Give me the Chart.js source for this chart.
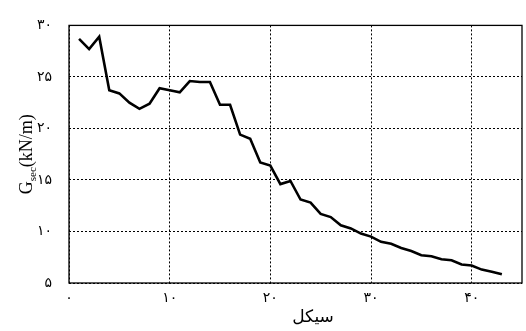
<!DOCTYPE html>
<html>
<head>
<meta charset="utf-8">
<script src="https://cdn.jsdelivr.net/npm/chart.js@4.4.0/dist/chart.umd.min.js"></script>
<style>
  body { margin: 0; background: #fff; }
  #wrap { width: 526px; height: 331px; }
</style>
</head>
<body>
<div id="wrap"><canvas id="mainChart" width="526" height="331"></canvas></div>
<script>
// cycle number and secant stiffness
var cycles = [1, 2, 3, 4, 5, 6, 7, 8, 9, 10, 11, 12, 13, 14, 15, 16, 17, 18, 19, 20, 21, 22,
              23, 24, 25, 26, 27, 28, 29, 30, 31, 32, 33, 34, 35, 36, 37, 38, 39, 40, 41, 42, 43];
var gsec = [28.7, 27.7, 28.9, 23.7, 23.4, 22.5, 21.9, 22.4, 23.9, 23.7, 23.5, 24.6, 24.5, 24.5,
            22.3, 22.3, 19.4, 19.0, 16.7, 16.4, 14.6, 14.9, 13.1, 12.8, 11.7, 11.4, 10.6, 10.3,
            9.8, 9.5, 9.0, 8.8, 8.4, 8.1, 7.7, 7.6, 7.3, 7.2, 6.8, 6.7, 6.3, 6.1, 5.85];

var xTicks = [0, 10, 20, 30, 40];
var xTickLabels = ['۰', '۱۰', '۲۰', '۳۰', '۴۰'];
var yTicks = [5, 10, 15, 20, 25, 30];
var yTickLabels = ['۵', '۱۰', '۱۵', '۲۰', '۲۵', '۳۰'];

var xTitle = 'سیکل';

var points = cycles.map(function (c, i) { return { x: c, y: gsec[i] }; });

// frame + axis titles
var framePlugin = {
    id: 'frame',
    afterDraw: function (chart) {
        var ctx = chart.ctx, a = chart.chartArea;
        ctx.save();
        ctx.strokeStyle = '#000';
        ctx.lineWidth = 1.3;
        ctx.setLineDash([]);
        ctx.strokeRect(a.left, a.top, a.right - a.left, a.bottom - a.top);

        // x title
        ctx.fillStyle = '#000';
        ctx.font = '17px "DejaVu Sans"';
        ctx.textAlign = 'center';
        ctx.textBaseline = 'middle';
        ctx.fillText(xTitle, 313, 318);

        // y title, rotated, G with subscript
        ctx.translate(26, (a.top + a.bottom) / 2);
        ctx.rotate(-Math.PI / 2);
        ctx.textBaseline = 'alphabetic';
        ctx.textAlign = 'left';
        var big = '18px "Liberation Serif"', small = '11px "Liberation Serif"';
        ctx.font = big;
        var wG = ctx.measureText('G').width;
        var wRest = ctx.measureText('(kN/m)').width;
        ctx.font = small;
        var wSub = ctx.measureText('sec').width;
        var x0 = -(wG + wSub + wRest) / 2;
        var base = 6;
        ctx.font = big;
        ctx.fillText('G', x0, base);
        ctx.font = small;
        ctx.fillText('sec', x0 + wG, base + 4);
        ctx.font = big;
        ctx.fillText('(kN/m)', x0 + wG + wSub, base);
        ctx.restore();
    }
};

var config = {
    type: 'line',
    data: {
        datasets: [{
            data: points,
            borderColor: '#000',
            borderWidth: 2.6,
            pointRadius: 0,
            fill: false,
            tension: 0
        }]
    },
    options: {
        responsive: false,
        animation: false,
        layout: { padding: { left: 0, right: 4, top: 18, bottom: 0 } },
        plugins: {
            legend: { display: false },
            tooltip: { enabled: false }
        },
        scales: {
            x: {
                type: 'linear',
                min: 0,
                max: 45,
                afterBuildTicks: function (scale) {
                    scale.ticks = xTicks.map(function (v) { return { value: v }; });
                },
                afterFit: function (scale) { scale.height = 48; },
                grid: { color: '#000', lineWidth: 1, drawTicks: false },
                border: { display: false, dash: [2, 2] },
                ticks: {
                    color: '#000',
                    padding: 7,
                    maxRotation: 0,
                    font: { family: 'DejaVu Sans', size: 14 },
                    callback: function (v) { return xTickLabels[xTicks.indexOf(v)]; }
                }
            },
            y: {
                min: 5,
                max: 30,
                afterBuildTicks: function (scale) {
                    scale.ticks = yTicks.map(function (v) { return { value: v }; });
                },
                afterFit: function (scale) { scale.width = 69; },
                grid: { color: '#000', lineWidth: 1, drawTicks: false },
                border: { display: false, dash: [2, 2] },
                ticks: {
                    color: '#000',
                    padding: 17,
                    font: { family: 'DejaVu Sans', size: 14 },
                    callback: function (v) { return yTickLabels[yTicks.indexOf(v)]; }
                }
            }
        }
    },
    plugins: [framePlugin]
};

new Chart(document.getElementById('mainChart'), config);
</script>
</body>
</html>
